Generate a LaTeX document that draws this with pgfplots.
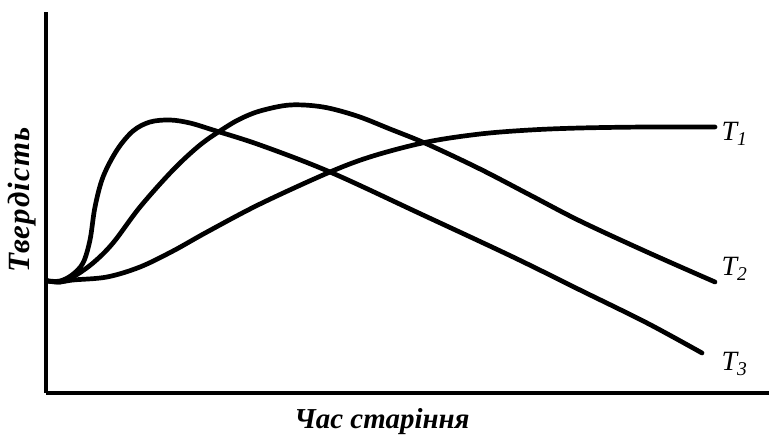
\documentclass[border=0pt]{standalone}
\usepackage{fontspec}
\setmainfont{Liberation Serif}
\usepackage{pgfplots}
\pgfplotsset{compat=1.18}
\usetikzlibrary{calc}
\tikzset{curve/.style={black, line width=4.7bp, smooth, tension=0.55, line cap=round, line join=round}}

\begin{document}
\begin{tikzpicture}
\begin{axis}[
    name=ax,
    scale only axis,
    width=723bp, height=381bp,
    xmin=0, xmax=723, ymin=0, ymax=381,
    axis x line=bottom, axis y line=left,
    axis line style={-, line width=4.2bp},
    xtick=\empty, ytick=\empty,
    clip=false,
]
% T1 -- slowest rise, levels off
\addplot[curve] coordinates {
    (2,112) (14,111) (27,113) (61,116) (94,126) (127,142) (161,161)
    (214,189) (284,221) (327,237) (381,251) (434,259) (484,263)
    (534,265) (601,266) (669,266)
};
% T2 -- middle
\addplot[curve] coordinates {
    (2,112) (14,111) (27,116) (47,130) (67,150) (94,186) (127,223)
    (154,248) (177,264) (194,274) (214,282) (244,288) (277,286)
    (311,277) (344,264) (381,249) (434,224) (484,198) (534,172)
    (601,141) (669,111)
};
% T3 -- fastest rise, earliest peak
\addplot[curve] coordinates {
    (2,112) (14,112) (26,118) (37,130) (44,153) (49,186) (57,216)
    (71,243) (87,262) (104,271) (124,273) (144,270) (167,263)
    (214,248) (284,221) (377,178) (467,136) (534,103) (601,70)
    (656,40)
};
\coordinate (O) at (axis cs:0,0);
\node[anchor=west, font=\itshape\fontsize{28}{28}\selectfont] at (axis cs:672,259) {$\mathit{T}_{\mathit{1}}$};
\node[anchor=west, font=\itshape\fontsize{28}{28}\selectfont] at (axis cs:672,124) {$\mathit{T}_{\mathit{2}}$};
\node[anchor=west, font=\itshape\fontsize{28}{28}\selectfont] at (axis cs:672,29) {$\mathit{T}_{\mathit{3}}$};
\node[font=\bfseries\itshape\fontsize{29}{29}\selectfont] at (axis cs:336,-29) {Час старіння};
\node[rotate=90, font=\bfseries\itshape\fontsize{31}{31}\selectfont\addfontfeatures{LetterSpace=4}] at (axis cs:-24,193) {Твердість};
\end{axis}
\pgfresetboundingbox
\path[use as bounding box] ($(O)+(-46bp,-46bp)$) rectangle ($(O)+(723bp,393bp)$);
\end{tikzpicture}
\end{document}
